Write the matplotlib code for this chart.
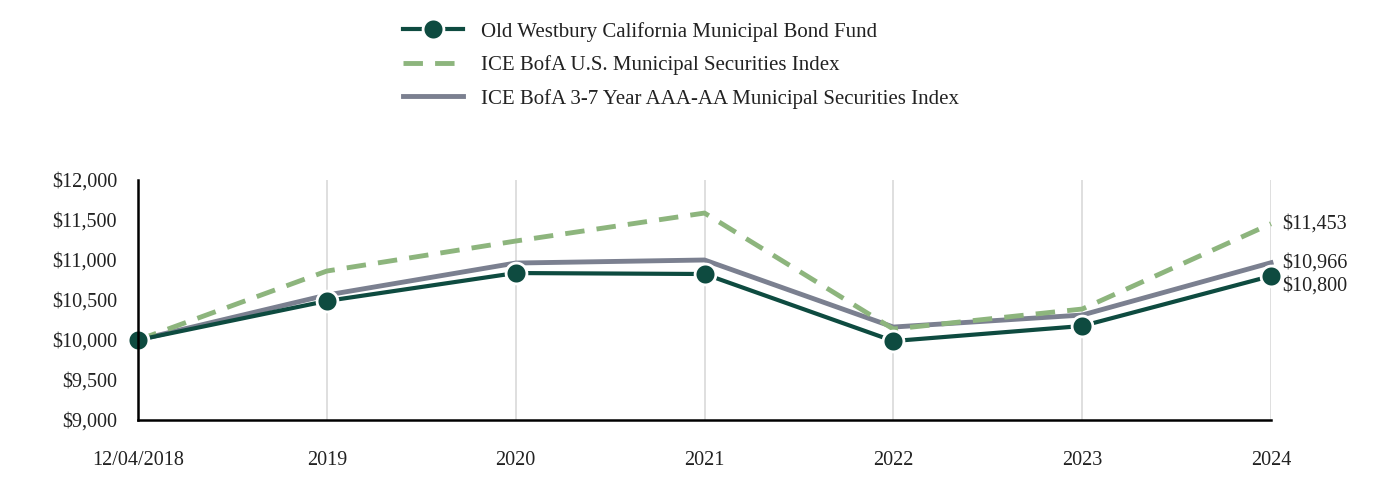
import matplotlib
matplotlib.use('Agg')
from matplotlib import pyplot as plt
from matplotlib.ticker import FuncFormatter

plt.rcParams['font.family'] = ['Liberation Serif', 'DejaVu Serif']

periods = ['12/04/2018', '2019', '2020', '2021', '2022', '2023', '2024']
fund = [10000, 10488, 10837, 10825, 9987, 10175, 10800]
muni_index = [10000, 10862, 11237, 11587, 10137, 10387, 11453]
short_index = [10000, 10562, 10962, 11000, 10162, 10312, 10966]

fund_name = 'Old Westbury California Municipal Bond Fund'
muni_name = 'ICE BofA U.S. Municipal Securities Index'
short_name = 'ICE BofA 3-7 Year AAA-AA Municipal Securities Index'

dark_green = '#0e4b40'
light_green = '#8db57d'
grey = '#7b8090'

fig = plt.figure(figsize=(13.92, 4.92), dpi=100)
ax = fig.add_axes([138 / 1392, 1 - 420 / 492, (1271 - 138) / 1392, 240 / 492])

x = list(range(len(periods)))
l_fund, = ax.plot(x, fund, color=dark_green, lw=3, marker='o', ms=15,
                  mfc=dark_green, mec='white', mew=2, zorder=5, clip_on=False)
l_muni, = ax.plot(x, muni_index, color=light_green, lw=3.5, ls=(0, (4, 2.5)), zorder=4,
                  clip_on=False)
l_short, = ax.plot(x, short_index, color=grey, lw=3.5, zorder=3, clip_on=False)

ax.set_xlim(0, len(periods) - 1)
ax.set_ylim(9000, 12000)
ax.set_yticks(range(9000, 12001, 500))
ax.yaxis.set_major_formatter(FuncFormatter(lambda v, p: '${:,.0f}'.format(v)))
ax.set_xticks(x)
ax.set_xticklabels(periods)
ax.tick_params(axis='both', length=0, labelsize=14.5, colors='#222222')
ax.tick_params(axis='x', pad=22)
ax.tick_params(axis='y', pad=15)
ax.grid(axis='x', color='#d9d9d9', lw=1.2)
ax.set_axisbelow(True)
for side in ['top', 'right']:
    ax.spines[side].set_visible(False)
for side in ['left', 'bottom']:
    ax.spines[side].set_color('black')
    ax.spines[side].set_linewidth(1.8)
    ax.spines[side].set_zorder(6)

# end labels
last = len(periods) - 1
ax.annotate('${:,.0f}'.format(muni_index[-1]), (last, muni_index[-1]), xytext=(8, 0),
            textcoords='offset points', va='center', fontsize=14.5, color='#222222',
            annotation_clip=False)
ax.annotate('${:,.0f}'.format(short_index[-1]), (last, short_index[-1]), xytext=(8, 0),
            textcoords='offset points', va='center', fontsize=14.5, color='#222222',
            annotation_clip=False)
ax.annotate('${:,.0f}'.format(fund[-1]), (last, fund[-1]), xytext=(8, -7),
            textcoords='offset points', va='center', fontsize=14.5, color='#222222',
            annotation_clip=False)

fig.legend([l_fund, l_muni, l_short], [fund_name, muni_name, short_name],
           loc='upper left', bbox_to_anchor=(384 / 1392, 1 - 3 / 492),
           frameon=False, fontsize=15, handlelength=2.9, labelspacing=0.65,
           handletextpad=0.85, labelcolor='#222222')

plt.savefig('out.png', dpi=100)
